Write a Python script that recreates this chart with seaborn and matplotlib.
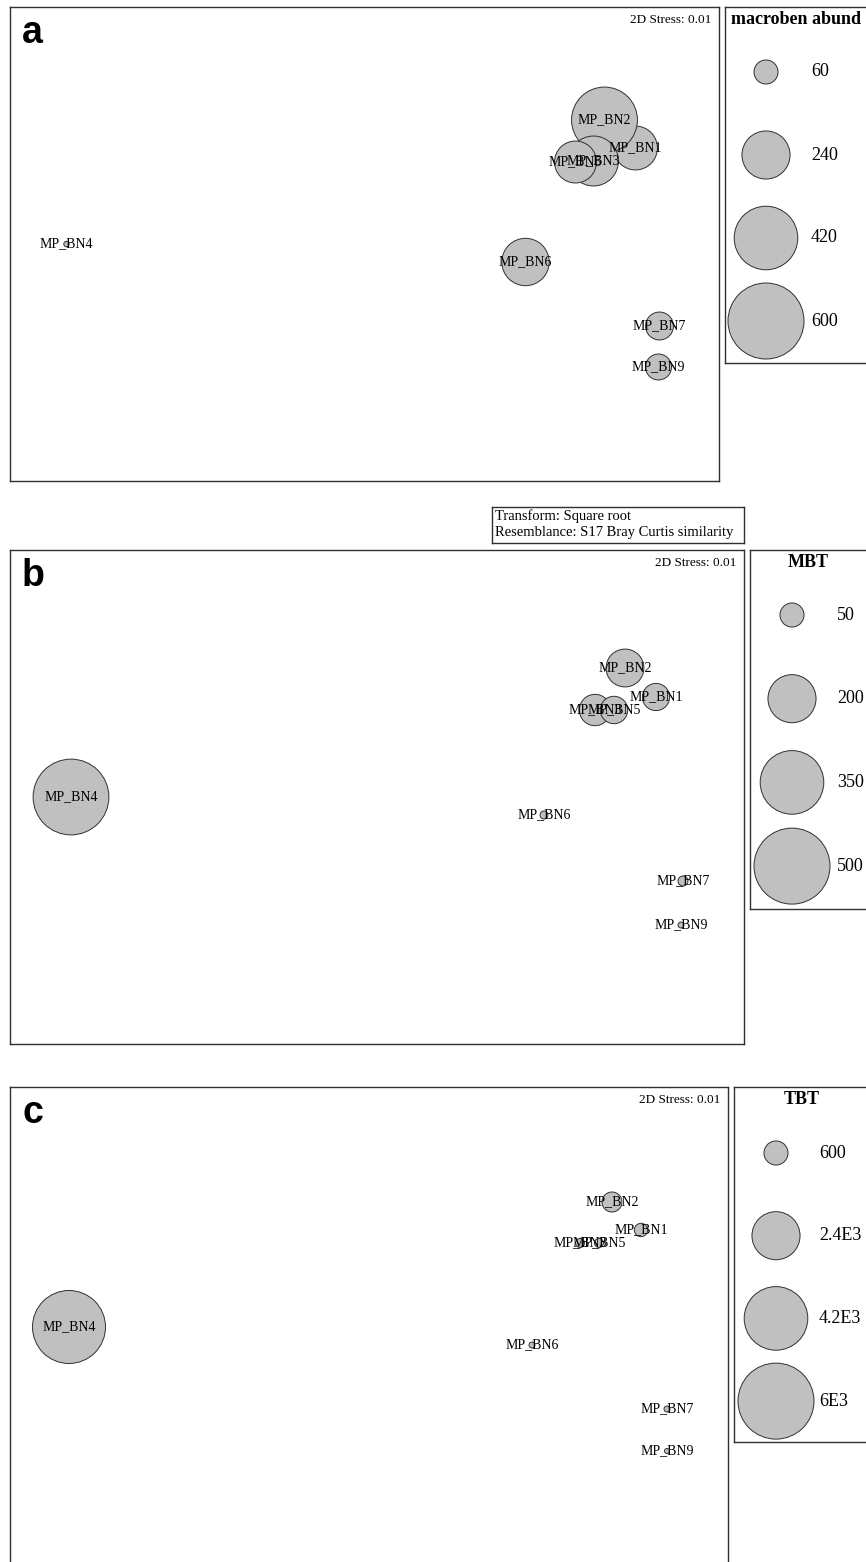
import matplotlib
matplotlib.use("Agg")
import matplotlib.pyplot as plt
import seaborn as sns
import pandas as pd

W, H = 866, 1562

sites = ["MP_BN1", "MP_BN2", "MP_BN3", "MP_BN4", "MP_BN5", "MP_BN6", "MP_BN7", "MP_BN9"]

# nMDS configuration (axis units)
a_mds1 = [2.71, 2.40, 2.29, -2.98, 2.11, 1.61, 2.95, 2.94]
a_mds2 = [0.96, 1.24, 0.83, 0.00, 0.82, -0.18, -0.82, -1.23]
b_mds1 = [2.79, 2.48, 2.18, -3.06, 2.37, 1.67, 3.06, 3.04]
b_mds2 = [1.00, 1.29, 0.87, 0.00, 0.87, -0.18, -0.84, -1.28]
c_mds1 = [2.72, 2.43, 2.11, -3.00, 2.30, 1.63, 2.98, 2.98]
c_mds2 = [0.97, 1.25, 0.84, 0.00, 0.84, -0.18, -0.82, -1.24]

# bubble variables
macroben_abund = [200, 451, 259, 3, 183, 233, 81, 70]
mbt = [64, 124, 85, 497, 65, 5.5, 8.6, 3]
tbt = [186, 415, 84, 5535, 84, 37, 37, 26]

# legend keys
a_keys = [60, 240, 420, 600]
a_key_labels = ["60", "240", "420", "600"]
b_keys = [50, 200, 350, 500]
b_key_labels = ["50", "200", "350", "500"]
c_keys = [600, 2400, 4200, 6000]
c_key_labels = ["600", "2.4E3", "4.2E3", "6E3"]

stress_text = "2D Stress: 0.01"
header_lines = ["Transform: Square root", "Resemblance: S17 Bray Curtis similarity"]

FILL = "#c0c0c0"
EDGE = "#303030"
SMAX = (2 * 38 * 0.72) ** 2   # area of the largest key circle (r = 38 px)

sns.set_style("white")
plt.rcParams["font.family"] = ["Liberation Serif", "DejaVu Serif"]
plt.rcParams["text.color"] = "black"


def px_rect(x0, y0, x1, y1):
    return [x0 / W, 1 - y1 / H, (x1 - x0) / W, (y1 - y0) / H]


def boxed(ax):
    ax.set_xticks([])
    ax.set_yticks([])
    ax.set_xlabel("")
    ax.set_ylabel("")
    for s in ax.spines.values():
        s.set_visible(True)
        s.set_color(EDGE)
        s.set_linewidth(1.0)


def bubbles(ax, x, y, v, vmax):
    df = pd.DataFrame({"x": x, "y": y, "v": v})
    sns.scatterplot(data=df, x="x", y="y", size="v", sizes=(0, SMAX),
                    size_norm=(0, vmax), color=FILL, edgecolor=EDGE,
                    linewidth=0.7, legend=False, ax=ax, zorder=2, clip_on=False)


def mds_panel(fig, rect, xlim, ylim, x, y, v, vmax, letter):
    ax = fig.add_axes(px_rect(*rect))
    bubbles(ax, x, y, v, vmax)
    for name, xi, yi in zip(sites, x, y):
        ax.text(xi, yi, name, ha="center", va="center", fontsize=10, zorder=3)
    ax.set_xlim(*xlim)
    ax.set_ylim(*ylim)
    boxed(ax)
    ax.annotate(stress_text, xy=(1, 1), xycoords="axes fraction",
                xytext=(-8, -13), textcoords="offset pixels",
                ha="right", va="center", fontsize=9.5)
    ax.annotate(letter, xy=(0, 1), xycoords="axes fraction",
                xytext=(12, -36), textcoords="offset pixels",
                ha="left", va="baseline", fontsize=27, fontweight="bold",
                family="Liberation Sans")
    return ax


def key_panel(fig, box, cx, cy0, step, label_x, title_xy, title, keys, labels, vmax):
    x0, y0, x1, y1 = box
    ax = fig.add_axes(px_rect(*box))
    df = pd.DataFrame({"x": [0] * len(keys), "y": list(range(len(keys))), "v": keys})
    sns.scatterplot(data=df, x="x", y="y", size="v", sizes=(0, SMAX),
                    size_norm=(0, vmax), color=FILL, edgecolor=EDGE,
                    linewidth=0.7, legend=False, ax=ax, zorder=2)
    lx = (label_x - cx) / step
    for i, lab in enumerate(labels):
        ax.text(lx, i, lab, ha="left", va="center", fontsize=13)
    ax.text((title_xy[0] - cx) / step, (title_xy[1] - cy0) / step, title,
            ha="center", va="center", fontsize=13, fontweight="bold")
    ax.set_xlim((x0 - cx) / step, (x1 - cx) / step)
    ax.set_ylim((y1 - cy0) / step, (y0 - cy0) / step)
    boxed(ax)
    return ax


fig = plt.figure(figsize=(W / 100, H / 100), dpi=100)

# panel a
mds_panel(fig, (10, 7, 719, 481), (-3.545, 3.545), (-2.37, 2.37),
          a_mds1, a_mds2, macroben_abund, a_keys[-1], "a")
key_panel(fig, (725, 7, 880, 363), 766, 72, 83, 811, (796, 20),
          "macroben abund", a_keys, a_key_labels, a_keys[-1])

# header box
hax = fig.add_axes(px_rect(492, 507, 744, 543))
boxed(hax)
hax.text(0.012, 0.75, header_lines[0], transform=hax.transAxes, ha="left", va="center", fontsize=10.5)
hax.text(0.012, 0.28, header_lines[1], transform=hax.transAxes, ha="left", va="center", fontsize=10.5)

# panel b
mds_panel(fig, (10, 550, 744, 1044), (-3.67, 3.67), (-2.47, 2.47),
          b_mds1, b_mds2, mbt, b_keys[-1], "b")
key_panel(fig, (750, 550, 880, 909), 792, 615, 83.7, 837, (808, 562),
          "MBT", b_keys, b_key_labels, b_keys[-1])

# panel c
mds_panel(fig, (10, 1087, 728, 1575), (-3.59, 3.59), (-2.48, 2.40),
          c_mds1, c_mds2, tbt, c_keys[-1], "c")
key_panel(fig, (734, 1087, 880, 1442), 776, 1153, 82.7, 819, (802, 1099),
          "TBT", c_keys, c_key_labels, c_keys[-1])

fig.savefig("out.png", dpi=100, facecolor="white")
